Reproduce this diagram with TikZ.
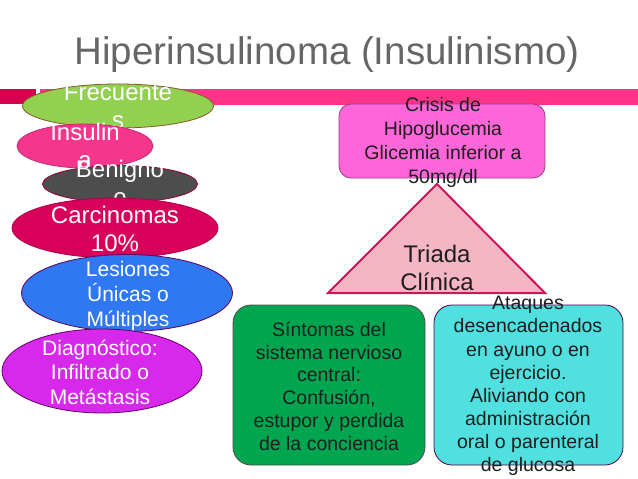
\documentclass[tikz,border=0pt]{standalone}
\usepackage{fontspec}
\setmainfont{Liberation Sans}
\usetikzlibrary{shapes.geometric}
\definecolor{titlegray}{HTML}{666666}
\definecolor{barpink}{HTML}{FF3388}
\definecolor{barred}{HTML}{D6004F}
\definecolor{cgreen}{HTML}{92D050}
\definecolor{cpink}{HTML}{F5368C}
\definecolor{cgray}{HTML}{4D4D4D}
\definecolor{ccrim}{HTML}{D9005B}
\definecolor{cblue}{HTML}{2F78F2}
\definecolor{cmag}{HTML}{D828EC}
\definecolor{crisis}{HTML}{FF66D9}
\definecolor{tri}{HTML}{F4B6C4}
\definecolor{triedge}{HTML}{C8185A}
\definecolor{bgreen}{HTML}{00A64F}
\definecolor{bcyan}{HTML}{50E0E0}
\definecolor{txt}{HTML}{1E1E1E}
\tikzset{
  ell/.style={ellipse, draw, line width=0.8pt, inner sep=0pt},
  etext/.style={text=white, align=center, anchor=base, inner sep=0pt},
  bigtxt/.style={font=\fontsize{24}{28}\selectfont},
  smalltxt/.style={font=\fontsize{21}{24.6}\selectfont},
  boxshape/.style={rectangle, draw, line width=0.8pt, inner sep=0pt},
  btext/.style={text=txt, align=center, anchor=base, inner sep=0pt, font=\fontsize{19.5}{23}\selectfont},
}
\begin{document}
\begin{tikzpicture}[x=1pt,y=-1pt]
\useasboundingbox (0,0) rectangle (638,479);
\fill[white] (0,0) rectangle (638,479);
% title
\node[anchor=base, inner sep=0pt, text=titlegray, font=\fontsize{38.5}{44}\selectfont] (title) at (327,64) {Hiperinsulinoma (Insulinismo)};
% bar
\fill[barred] (0,88.5) rectangle (36,104);
\fill[barpink] (40,89) rectangle (638,105);
% left ellipses
\node[ell, fill=cgreen, draw=brown!70!black, minimum width=191pt, minimum height=44pt] (fre) at (118,106) {};
\node[etext, bigtxt] (fretxt) at (118,128) {Frecuente\\s};
\node[ell, fill=cpink, draw=cpink!80!black, minimum width=136pt, minimum height=44pt] (ins) at (85,146) {};
\node[etext, bigtxt] (instxt) at (85,168) {Insulin\\a};
\node[ell, fill=cgray, draw=ccrim!70!black, minimum width=155pt, minimum height=37pt] (ben) at (120,184) {};
\node[etext, bigtxt] (bentxt) at (120,205) {Benigno\\o};
\node[ell, fill=ccrim, draw=ccrim!80!black, minimum width=206pt, minimum height=60pt] (car) at (115,228) {};
\node[etext, bigtxt] (cartxt) at (115,251) {Carcinomas\\10\%};
\node[ell, fill=cblue, draw=violet!70!black, minimum width=211pt, minimum height=77pt] (les) at (127,293) {};
\node[etext, smalltxt] (lestxt) at (128,326) {Lesiones\\Únicas o\\Múltiples};
\node[ell, fill=cmag, draw=violet!80!black, minimum width=200pt, minimum height=84pt] (dia) at (102,371) {};
\node[etext, smalltxt] (diatxt) at (100,404.5) {Diagnóstico:\\Infiltrado o\\Metástasis};
% crisis box
\node[boxshape, rounded corners=12pt, fill=crisis, draw=crisis!60!black, minimum width=206pt, minimum height=74pt] (cri) at (442,141) {};
\node[btext, font=\fontsize{19.5}{23.7}\selectfont] (critxt) at (443,183) {Crisis de\\Hipoglucemia\\Glicemia inferior a\\50mg/dl};
% triangle
\coordinate (ta) at (437,184);
\coordinate (tl) at (328,293);
\coordinate (tr) at (545,293);
\draw[fill=tri, draw=triedge, line width=2pt, line join=miter] (ta) -- (tl) -- (tr) -- cycle;
\node[btext, font=\fontsize{24}{28}\selectfont] (tritxt) at (437,290) {Triada\\Clínica};
% bottom boxes
\node[boxshape, rounded corners=18pt, fill=bgreen, draw=black!70, minimum width=192pt, minimum height=160pt] (sin) at (329,385) {};
\node[btext, font=\fontsize{19.5}{22.7}\selectfont] (sintxt) at (329,450) {Síntomas del\\sistema nervioso\\central:\\Confusión,\\estupor y perdida\\de la conciencia};
\node[boxshape, rounded corners=18pt, fill=bcyan, draw=violet!60!black, minimum width=189pt, minimum height=160pt] (ata) at (528.5,385) {};
\node[btext, font=\fontsize{19.5}{23.1}\selectfont] (atatxt) at (528,471.5) {Ataques\\desencadenados\\en ayuno o en\\ejercicio.\\Aliviando con\\administración\\oral o parenteral\\de glucosa};
\end{tikzpicture}
\end{document}
